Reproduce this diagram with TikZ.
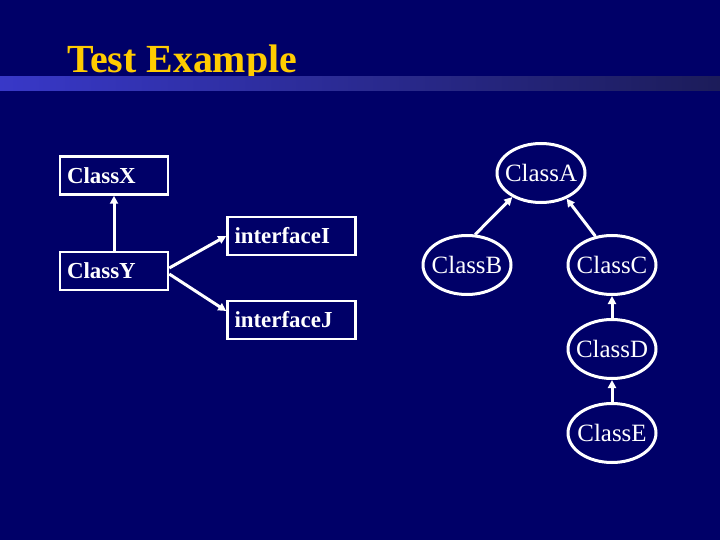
\documentclass[tikz,border=0pt]{standalone}
\usepackage{fontspec}
\setmainfont{Liberation Serif}
\usetikzlibrary{shapes.geometric,arrows.meta}
\definecolor{slidebg}{RGB}{0,0,104}
\definecolor{titlegold}{RGB}{255,204,0}
\definecolor{barleft}{RGB}{56,56,200}
\definecolor{barright}{RGB}{28,28,90}
\newcommand{\ovaltext}[1]{\makebox[0pt]{#1}}
\tikzset{
    classbox/.style={draw=white, line width=2.5bp, minimum height=38bp, inner xsep=7bp, inner ysep=0pt, text=white, align=left, font=\fontsize{23}{23}\selectfont\bfseries},
    classoval/.style={ellipse, draw=white, line width=3bp, minimum width=88bp, minimum height=59bp, inner sep=0pt, text=white, font=\fontsize{25}{25}\selectfont},
    inherit/.style={draw=white, line width=3bp, -{Triangle[width=8bp,length=8bp]}}
}
\begin{document}
\begin{tikzpicture}[x=1bp, y=-1bp]
        \useasboundingbox (0,0) rectangle (720,540);
        \fill[slidebg] (0,0) rectangle (720,540);
        %title and bar
        \node[anchor=base west, inner sep=0pt, text=titlegold, font=\fontsize{40}{40}\selectfont\bfseries] (title) at (67,73) {Test Example};
        \shade[left color=barleft, right color=barright] (0,77) rectangle (720,91);

        %left part: boxes
        \node[classbox, text width=94bp] (classX) at (114,175.5) {ClassX};
        \node[classbox, text width=94bp] (classY) at (114,271) {ClassY};
        \node[classbox, text width=114bp] (interfaceI) at (291.5,236) {interfaceI};
        \node[classbox, text width=114bp] (interfaceJ) at (291.5,320) {interfaceJ};

        \draw[inherit] (classY.north) -- (classX.south);
        \draw[inherit] ([yshift=3bp]classY.east) -- (interfaceI.west);
        \draw[inherit] ([yshift=-3bp]classY.east) -- ([yshift=9bp]interfaceJ.west);

        %right part: ovals
        \node[classoval] (classA) at (541,173) {\ovaltext{ClassA}};
        \node[classoval] (classB) at (467,265) {\ovaltext{ClassB}};
        \node[classoval] (classC) at (612,265) {\ovaltext{ClassC}};
        \node[classoval] (classD) at (612,349) {\ovaltext{ClassD}};
        \node[classoval] (classE) at (612,433) {\ovaltext{ClassE}};

        \draw[inherit] (classB.75) -- (classA.220);
        \draw[inherit] (classC.120) -- (classA.315);
        \draw[inherit] (classD.north) -- (classC.south);
        \draw[inherit] (classE.north) -- (classD.south);
    \end{tikzpicture}
\end{document}
